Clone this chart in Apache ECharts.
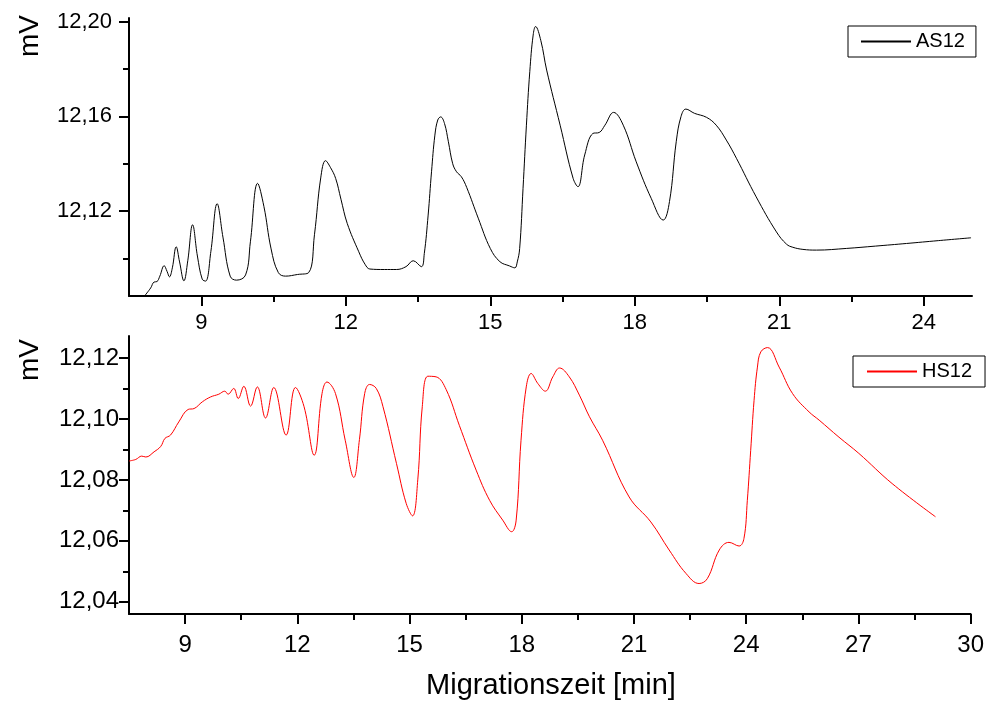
<!DOCTYPE html>
<html>
<head>
<meta charset="utf-8">
<script src="https://cdn.jsdelivr.net/npm/echarts@6/dist/echarts.min.js"></script>
<style>
  html, body { margin: 0; padding: 0; background: #fff; }
  #chart { width: 987px; height: 701px; }
</style>
</head>
<body>
<div id="chart"></div>
<script>
// Electropherogram traces: migration time [min] vs detector signal [mV]
const asTime = [7.83, 7.95, 8.02, 8.08, 8.14, 8.23, 8.29, 8.34, 8.40, 8.48, 8.55, 8.64, 8.72, 8.82, 8.92, 9.02, 9.09, 9.20, 9.33, 9.45, 9.60, 9.73, 9.92, 10.02, 10.17, 10.30, 10.45, 10.60, 10.75, 11.00, 11.23, 11.35, 11.48, 11.58, 11.68, 11.79, 11.90, 12.03, 12.27, 12.40, 12.50, 12.80, 13.05, 13.25, 13.40, 13.57, 13.63, 13.71, 13.78, 13.85, 13.91, 13.97, 14.05, 14.13, 14.22, 14.30, 14.40, 14.51, 14.75, 15.00, 15.20, 15.40, 15.51, 15.56, 15.61, 15.68, 15.75, 15.82, 15.89, 15.94, 16.05, 16.17, 16.45, 16.72, 16.82, 16.96, 17.13, 17.26, 17.38, 17.56, 17.76, 18.03, 18.34, 18.59, 18.72, 18.86, 18.96, 19.06, 19.24, 19.49, 19.69, 19.90, 20.11, 20.52, 20.94, 21.15, 21.28, 21.49, 21.77, 22.39, 23.00, 23.64, 24.30, 24.98];
const asSignal = [12.0843, 12.0875, 12.0900, 12.0902, 12.0925, 12.0969, 12.0945, 12.0922, 12.0960, 12.1049, 12.0985, 12.0905, 12.0990, 12.1142, 12.1010, 12.0912, 12.0904, 12.1030, 12.1231, 12.1090, 12.0925, 12.0908, 12.0930, 12.1070, 12.1317, 12.1220, 12.1040, 12.0940, 12.0925, 12.0932, 12.0940, 12.1100, 12.1340, 12.1413, 12.1385, 12.1338, 12.1250, 12.1148, 12.1028, 12.0975, 12.0955, 12.0953, 12.0953, 12.0965, 12.0990, 12.0965, 12.1020, 12.1183, 12.1366, 12.1521, 12.1585, 12.1598, 12.1570, 12.1493, 12.1400, 12.1366, 12.1345, 12.1300, 12.1170, 12.1042, 12.0986, 12.0968, 12.0960, 12.0985, 12.1042, 12.1296, 12.1563, 12.1789, 12.1944, 12.1980, 12.1920, 12.1796, 12.1563, 12.1338, 12.1303, 12.1437, 12.1528, 12.1532, 12.1563, 12.1617, 12.1563, 12.1408, 12.1254, 12.1162, 12.1240, 12.1493, 12.1600, 12.1631, 12.1613, 12.1596, 12.1563, 12.1500, 12.1423, 12.1260, 12.1112, 12.1060, 12.1047, 12.1038, 12.1035, 12.1042, 12.1052, 12.1063, 12.1075, 12.1087];

const hsTime = [7.50, 7.68, 7.84, 7.95, 8.17, 8.35, 8.46, 8.61, 8.83, 9.08, 9.24, 9.46, 9.68, 9.90, 10.06, 10.15, 10.30, 10.42, 10.57, 10.75, 10.93, 11.15, 11.37, 11.70, 11.95, 12.18, 12.45, 12.66, 12.79, 13.02, 13.28, 13.51, 13.66, 13.80, 13.93, 14.11, 14.29, 14.65, 14.91, 15.08, 15.22, 15.34, 15.49, 15.71, 15.98, 16.33, 16.78, 17.14, 17.49, 17.73, 17.85, 17.98, 18.12, 18.25, 18.43, 18.63, 18.83, 19.01, 19.27, 19.54, 19.81, 20.16, 20.87, 21.45, 21.94, 22.39, 22.74, 22.96, 23.28, 23.54, 23.81, 23.94, 24.03, 24.12, 24.21, 24.30, 24.39, 24.57, 24.88, 25.24, 25.68, 25.95, 26.48, 27.01, 27.90, 29.06];
const hsSignal = [12.0862, 12.0867, 12.0878, 12.0875, 12.0892, 12.0910, 12.0936, 12.0947, 12.0990, 12.1031, 12.1034, 12.1056, 12.1072, 12.1081, 12.1091, 12.1081, 12.1100, 12.1067, 12.1107, 12.1042, 12.1105, 12.1003, 12.1103, 12.0947, 12.1103, 12.1040, 12.0881, 12.1083, 12.1121, 12.1083, 12.0930, 12.0808, 12.0932, 12.1083, 12.1113, 12.1100, 12.1040, 12.0854, 12.0723, 12.0682, 12.0800, 12.1040, 12.1140, 12.1138, 12.1096, 12.0979, 12.0832, 12.0733, 12.0668, 12.0630, 12.0668, 12.0930, 12.1105, 12.1149, 12.1116, 12.1091, 12.1138, 12.1167, 12.1138, 12.1078, 12.1007, 12.0930, 12.0744, 12.0662, 12.0570, 12.0493, 12.0460, 12.0476, 12.0570, 12.0595, 12.0583, 12.0608, 12.0733, 12.0897, 12.1061, 12.1170, 12.1220, 12.1234, 12.1170, 12.1083, 12.1023, 12.0996, 12.0940, 12.0887, 12.0788, 12.0679];

// Tick positions
const topXMajor = [9, 12, 15, 18, 21, 24];
const topXMinor = [10.5, 13.5, 16.5, 19.5, 22.5];
const topYMajor = [12.12, 12.16, 12.20];
const topYMinor = [12.10, 12.14, 12.18];
const botXMajor = [9, 12, 15, 18, 21, 24, 27, 30];
const botXMinor = [10.5, 13.5, 16.5, 19.5, 22.5, 25.5, 28.5];
const botYMajor = [12.04, 12.06, 12.08, 12.10, 12.12];
const botYMinor = [12.05, 12.07, 12.09, 12.11];

const seriesNames = ['AS12', 'HS12'];

const FONT = 'Liberation Sans, Arial, sans-serif';
const black = '#000';

function pairs(xs, ys) { return xs.map((x, i) => [x, ys[i]]); }
const comma = v => v.toFixed(2).replace('.', ',');

function xPair(grid, min, max, major, minor, fs, margin) {
  return [
    { gridIndex: grid, type: 'value', position: 'bottom', min, max,
      axisLine: { lineStyle: { color: black, width: 2 } },
      axisTick: { customValues: major, length: 10, lineStyle: { color: black, width: 2 } },
      axisLabel: { customValues: major, color: black, fontSize: fs, fontFamily: FONT, margin },
      splitLine: { show: false } },
    { gridIndex: grid, type: 'value', position: 'bottom', min, max,
      axisLine: { show: false },
      axisTick: { customValues: minor, length: 6, lineStyle: { color: black, width: 2 } },
      axisLabel: { show: false },
      splitLine: { show: false } }
  ];
}
function yPair(grid, min, max, major, minor, fs, margin) {
  return [
    { gridIndex: grid, type: 'value', position: 'left', min, max,
      axisLine: { show: true, lineStyle: { color: black, width: 2 } },
      axisTick: { show: true, customValues: major, length: 10, lineStyle: { color: black, width: 2 } },
      axisLabel: { customValues: major, color: black, fontSize: fs, fontFamily: FONT, margin, formatter: comma },
      splitLine: { show: false } },
    { gridIndex: grid, type: 'value', position: 'left', min, max,
      axisLine: { show: false },
      axisTick: { show: true, customValues: minor, length: 6, lineStyle: { color: black, width: 2 } },
      axisLabel: { show: false },
      splitLine: { show: false } }
  ];
}

function legendBox(name, left, top, padding) {
  return {
    data: [name], left, top, orient: 'horizontal',
    padding, itemWidth: 50, itemHeight: 14,
    itemStyle: { opacity: 0 },
    borderColor: black, borderWidth: 1, borderRadius: 0,
    textStyle: { color: black, fontSize: 20, fontFamily: FONT, lineHeight: 21 }
  };
}

const chart = echarts.init(document.getElementById('chart'), null, { renderer: 'canvas' });
chart.setOption({
  animation: false,
  backgroundColor: '#fff',
  grid: [
    { left: 129, right: 15, top: 18, height: 278 },
    { left: 129, right: 15, top: 336, height: 278 }
  ],
  xAxis: [
    ...xPair(0, 7.5, 25, topXMajor, topXMinor, 22, 16),
    ...xPair(1, 7.5, 30, botXMajor, botXMinor, 24, 19)
  ],
  yAxis: [
    ...yPair(0, 12.0841, 12.2016, topYMajor, topYMinor, 22, 17),
    ...yPair(1, 12.036, 12.1272, botYMajor, botYMinor, 24, 10)
  ],
  legend: [
    legendBox(seriesNames[0], 848, 26, [5, 11, 5, 12]),
    legendBox(seriesNames[1], 853, 356, [5, 13, 5, 13])
  ],
  series: [
    { name: seriesNames[0], type: 'line', xAxisIndex: 0, yAxisIndex: 0,
      data: pairs(asTime, asSignal), symbol: 'none', smooth: 0.4,
      lineStyle: { color: black, width: 1 }, itemStyle: { color: black } },
    { name: seriesNames[1], type: 'line', xAxisIndex: 2, yAxisIndex: 2,
      data: pairs(hsTime, hsSignal), symbol: 'none', smooth: 0.4,
      lineStyle: { color: '#ff0000', width: 1 }, itemStyle: { color: '#ff0000' } }
  ],
  graphic: [
    { type: 'text', x: 30, y: 36, rotation: Math.PI / 2,
      style: { text: 'mV', font: '28px ' + FONT, fill: black, textAlign: 'center', textVerticalAlign: 'middle' } },
    { type: 'text', x: 30, y: 360, rotation: Math.PI / 2,
      style: { text: 'mV', font: '28px ' + FONT, fill: black, textAlign: 'center', textVerticalAlign: 'middle' } },
    { type: 'text', x: 551, y: 686,
      style: { text: 'Migrationszeit [min]', font: '29px ' + FONT, fill: black, textAlign: 'center', textVerticalAlign: 'middle' } }
  ]
});
</script>
</body>
</html>
